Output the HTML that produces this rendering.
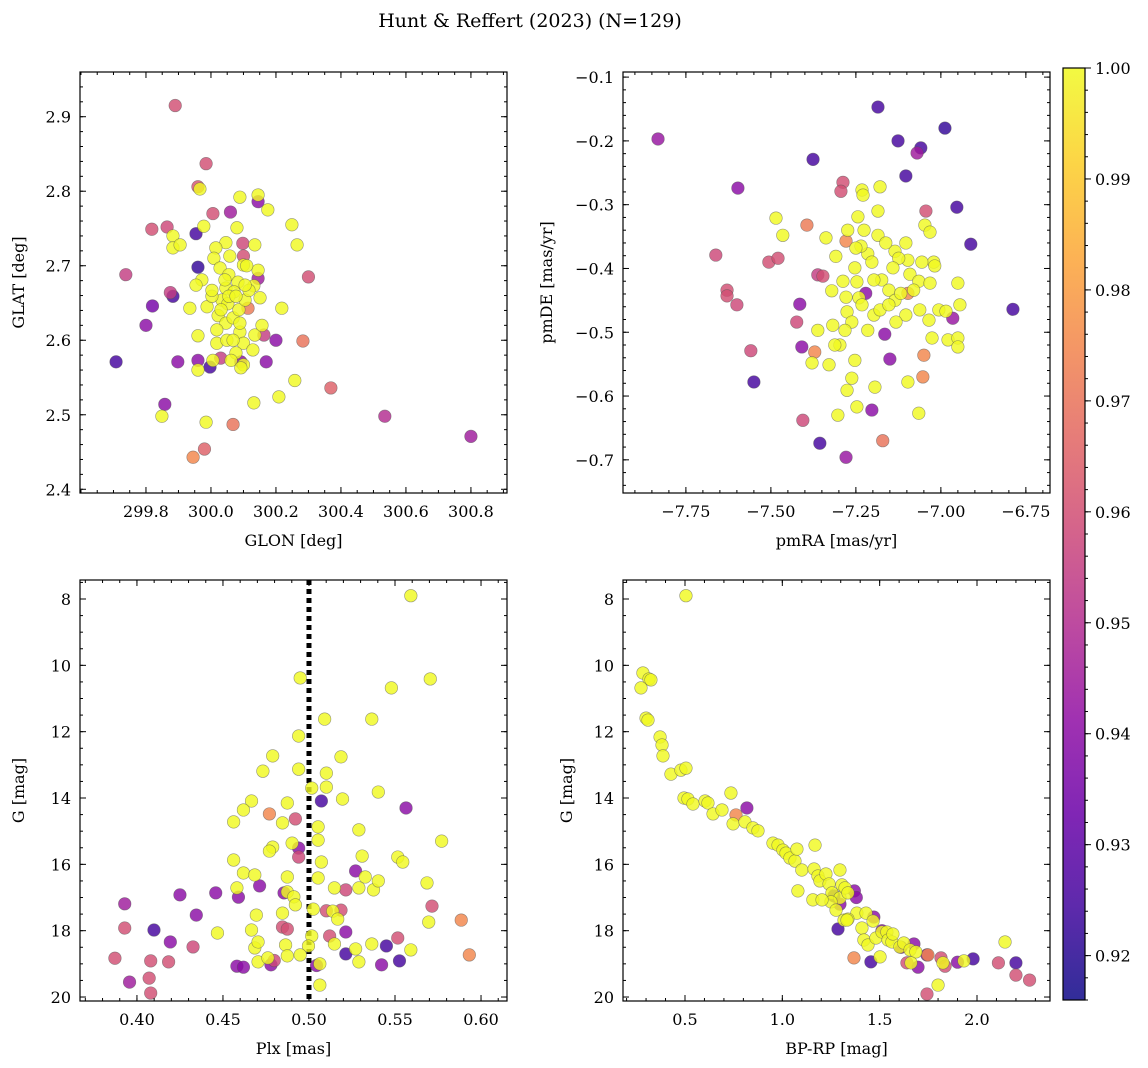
<!DOCTYPE html>
<html><head><meta charset="utf-8"><style>
html,body{margin:0;padding:0;background:#fff;}
svg{display:block;font-family:"DejaVu Serif","Liberation Serif",serif;}
</style></head><body>
<svg id="fig" width="1148" height="1068" viewBox="0 0 1148 1068" xmlns="http://www.w3.org/2000/svg">
<text x="530" y="27" text-anchor="middle" font-size="19">Hunt &amp; Reffert (2023) (N=129)</text>
<defs><linearGradient id="plasma" x1="0" y1="1" x2="0" y2="0"></linearGradient></defs>
</svg>
<script>
// ---------- Panel 1 data: GLON / GLAT ----------
const p1Glon=[299.966,300.089,300.145,300.175,300.08,299.978,299.883,299.883,299.905,300.135,300.249,300.265,300.046,300.015,300.058,300.009,300.10,300.145,300.028,299.972,300.055,300.083,300.132,300.151,299.954,299.935,299.988,300.046,300.034,300.071,300.003,300.022,300.046,300.018,300.068,300.086,300.105,300.117,300.052,300.089,300.10,300.135,300.077,300.062,300.10,300.092,299.96,300.006,299.96,300.018,300.129,300.218,300.258,300.132,300.209,299.985,299.849,300.055,300.077,300.043,300.003,300.105,300.157,300.049,300.089,300.031,300.068,300.11,
299.89,299.985,299.96,300.006,299.865,299.818,299.954,300.06,300.098,300.10,299.738,299.96,300.145,299.883,299.875,299.82,299.80,299.708,299.898,299.96,299.997,300.03,300.092,300.17,300.163,300.2,300.3,300.283,300.369,300.535,300.8,299.858,299.98,299.945,300.068,300.114,300.145];
const p1Glat=[2.803,2.792,2.795,2.775,2.751,2.753,2.74,2.724,2.728,2.728,2.755,2.728,2.731,2.724,2.713,2.71,2.701,2.694,2.697,2.681,2.688,2.678,2.673,2.657,2.674,2.643,2.645,2.67,2.654,2.665,2.659,2.633,2.623,2.614,2.63,2.641,2.654,2.667,2.649,2.611,2.596,2.607,2.583,2.573,2.567,2.563,2.606,2.573,2.56,2.596,2.587,2.643,2.546,2.516,2.524,2.49,2.498,2.659,2.659,2.681,2.667,2.674,2.62,2.60,2.623,2.641,2.60,2.70,
2.915,2.837,2.806,2.77,2.752,2.749,2.743,2.772,2.73,2.713,2.688,2.698,2.786,2.659,2.664,2.646,2.62,2.571,2.571,2.573,2.564,2.576,2.571,2.571,2.607,2.60,2.685,2.599,2.536,2.498,2.471,2.514,2.454,2.443,2.487,2.643,2.683];
const p1Prob=[1,1,1,1,1,1,1,1,1,1,1,1,1,1,1,1,1,1,1,1,1,1,1,1,1,1,1,1,1,1,1,1,1,1,1,1,1,1,1,1,1,1,1,1,1,1,1,1,1,1,1,1,1,1,1,1,1,1,1,1,1,1,1,1,1,1,1,1,
0.96,0.96,0.962,0.96,0.958,0.96,0.925,0.945,0.958,0.96,0.955,0.922,0.94,0.925,0.955,0.935,0.94,0.925,0.94,0.94,0.925,0.955,0.94,0.94,0.955,0.94,0.96,0.97,0.965,0.95,0.945,0.94,0.965,0.975,0.97,0.972,0.945];
// ---------- Panel 2 data: pmRA / pmDE ----------
const p2PmRA=[-7.485,-7.465,-7.338,-7.274,-7.232,-7.229,-7.179,-7.185,-7.244,-7.309,-7.321,-7.288,-7.279,-7.276,-7.253,-7.247,-7.241,-7.215,-7.235,-7.203,-7.174,-7.153,-7.135,-7.118,-7.097,-7.091,-7.135,-7.103,-7.047,-7.032,-7.021,-7.056,-7.065,-7.032,-7.018,-7.006,-7.062,-7.103,-7.132,-7.215,-7.232,-7.197,-7.179,-7.153,-7.262,-7.282,-7.318,-7.362,-7.379,-7.329,-7.297,-7.253,-7.262,-7.276,-7.247,-7.194,-7.097,-7.065,-7.035,-7.026,-6.979,-6.95,-6.95,-6.944,-6.95,-6.985,-7.25,-7.226,-7.185,-7.162,-7.124,-7.141,-7.312,-7.197,-7.08,-7.303,
-7.832,-7.185,-7.126,-6.988,-7.059,-7.07,-7.376,-7.597,-7.288,-7.294,-7.103,-6.953,-7.044,-6.912,-7.662,-7.629,-7.629,-7.6,-7.506,-7.479,-7.362,-7.347,-7.279,-7.394,-7.415,-7.424,-6.788,-6.965,-7.165,-7.15,-7.05,-7.097,-7.221,-7.409,-7.371,-7.559,-7.55,-7.053,-7.406,-7.356,-7.203,-7.171,-7.279];
const p2PmDE=[-0.321,-0.348,-0.352,-0.34,-0.277,-0.285,-0.272,-0.31,-0.319,-0.381,-0.435,-0.42,-0.445,-0.468,-0.399,-0.421,-0.446,-0.377,-0.365,-0.39,-0.418,-0.434,-0.45,-0.439,-0.387,-0.409,-0.373,-0.36,-0.332,-0.343,-0.39,-0.39,-0.42,-0.423,-0.396,-0.465,-0.465,-0.473,-0.484,-0.497,-0.457,-0.473,-0.465,-0.457,-0.484,-0.497,-0.489,-0.497,-0.548,-0.551,-0.52,-0.544,-0.572,-0.591,-0.617,-0.586,-0.578,-0.627,-0.481,-0.509,-0.512,-0.509,-0.523,-0.457,-0.423,-0.467,-0.368,-0.34,-0.348,-0.36,-0.384,-0.399,-0.52,-0.418,-0.434,-0.63,
-0.197,-0.147,-0.2,-0.18,-0.211,-0.219,-0.229,-0.274,-0.265,-0.279,-0.255,-0.304,-0.31,-0.362,-0.379,-0.434,-0.443,-0.457,-0.39,-0.384,-0.41,-0.412,-0.357,-0.332,-0.456,-0.484,-0.464,-0.478,-0.503,-0.542,-0.536,-0.439,-0.439,-0.523,-0.531,-0.529,-0.578,-0.57,-0.638,-0.674,-0.622,-0.67,-0.696];
const p2Prob=[1,1,1,1,1,1,1,1,1,1,1,1,1,1,1,1,1,1,1,1,1,1,1,1,1,1,1,1,1,1,1,1,1,1,1,1,1,1,1,1,1,1,1,1,1,1,1,1,1,1,1,1,1,1,1,1,1,1,1,1,1,1,1,1,1,1,1,1,1,1,1,1,1,1,1,1,
0.943,0.925,0.925,0.922,0.925,0.945,0.925,0.94,0.96,0.96,0.925,0.925,0.96,0.925,0.958,0.96,0.96,0.958,0.96,0.96,0.955,0.96,0.975,0.972,0.94,0.958,0.925,0.943,0.94,0.94,0.975,0.975,0.94,0.94,0.975,0.958,0.925,0.975,0.958,0.925,0.94,0.97,0.943];
// ---------- Panel 3 data: Plx / G ----------
const p3Plx=[0.5592,0.5705,0.4949,0.5479,0.5091,0.5365,0.4940,0.5186,0.4789,0.4732,0.4940,0.5101,0.5016,0.5101,0.4666,0.4874,0.5195,0.5403,0.4619,0.4562,0.4846,0.5053,0.4789,0.5290,0.5771,0.4562,0.4770,0.4902,0.5053,0.5309,0.5516,0.5545,0.5072,0.4619,0.4874,0.4685,0.5053,0.5327,0.5686,0.4581,0.5148,0.5290,0.5375,0.4874,0.5403,0.4912,0.4921,0.5138,0.4694,0.4846,0.5025,0.5696,0.4666,0.5016,0.5167,0.4685,0.4864,0.4997,0.4704,0.4468,0.5365,0.5148,0.5271,0.5592,0.4704,0.4761,0.4874,0.4949,0.5063,0.5290,0.5063,
0.3929,0.3929,0.3872,0.3957,0.4080,0.4099,0.4194,0.4184,0.4071,0.4080,0.4250,0.4345,0.4326,0.4458,0.4590,0.4581,0.4619,0.4713,0.4779,0.4798,0.4855,0.4846,0.4874,0.4770,0.4921,0.4940,0.4940,0.5072,0.5120,0.5214,0.5186,0.5214,0.5271,0.5214,0.5450,0.5422,0.5526,0.5516,0.5564,0.5715,0.5885,0.5932,0.5101,0.5044];
const p3G=[7.9,10.41,10.38,10.68,11.62,11.62,12.13,12.76,12.73,13.19,13.13,13.25,13.7,13.67,14.09,14.15,14.03,13.82,14.36,14.72,14.75,14.87,15.48,14.96,15.3,15.87,15.6,15.36,15.27,15.75,15.78,15.93,15.93,16.26,16.38,16.32,16.41,16.38,16.56,16.71,16.71,16.71,16.77,16.83,16.5,16.98,17.22,17.41,17.53,17.47,17.35,17.74,17.98,18.16,17.65,18.52,18.43,18.46,18.34,18.07,18.4,18.4,18.55,18.58,18.94,18.82,18.76,18.73,19.0,18.94,19.64,
17.19,17.92,18.83,19.55,18.91,17.98,18.34,18.94,19.43,19.88,16.92,17.53,18.49,16.86,16.99,19.07,19.1,16.65,19.03,18.9,16.86,17.89,17.95,14.48,14.63,15.51,15.78,14.09,18.16,18.04,17.38,16.77,16.2,18.7,18.46,19.03,18.91,18.22,14.3,17.26,17.68,18.73,17.4,19.05];
const p3Prob=[1,1,1,1,1,1,1,1,1,1,1,1,1,1,1,1,1,1,1,1,1,1,1,1,1,1,1,1,1,1,1,1,1,1,1,1,1,1,1,1,1,1,1,1,1,1,1,1,1,1,1,1,1,1,1,1,1,1,1,1,1,1,1,1,1,1,1,1,1,1,1,
0.945,0.96,0.96,0.945,0.96,0.925,0.94,0.96,0.96,0.96,0.94,0.94,0.958,0.94,0.94,0.94,0.94,0.94,0.94,0.958,0.94,0.96,0.96,0.975,0.96,0.94,0.958,0.925,0.96,0.94,0.96,0.958,0.94,0.925,0.925,0.94,0.925,0.96,0.94,0.96,0.975,0.975,0.96,0.94];
// ---------- Panel 4 data: BP-RP / G ----------
const p4Color=[0.505,0.284,0.315,0.325,0.274,0.3,0.31,0.372,0.382,0.387,0.428,0.479,0.505,0.495,0.515,0.541,0.603,0.618,0.644,0.69,0.736,0.747,0.808,0.849,0.875,0.952,0.978,1.003,1.019,1.039,1.065,1.075,1.168,1.1,1.08,1.163,1.183,1.193,1.224,1.24,1.255,1.296,1.306,1.322,1.337,1.25,1.276,1.317,1.383,1.43,1.466,1.409,1.419,1.44,1.481,1.512,1.537,1.543,1.563,1.568,1.604,1.624,1.656,1.686,1.661,1.502,1.825,1.8,1.933,2.144,1.337,1.157,1.204,1.296,1.332,
0.818,0.762,1.265,1.296,1.286,1.37,1.47,1.455,1.368,1.38,1.512,1.61,1.676,1.697,1.64,1.743,1.815,1.836,1.9,1.98,2.11,2.2,2.27,2.2,1.743,1.748];
const p4G=[7.9,10.23,10.41,10.44,10.68,11.59,11.65,12.16,12.4,12.73,13.28,13.16,13.1,14.0,14.03,14.18,14.09,14.15,14.48,14.36,13.85,14.78,14.72,14.9,14.99,15.36,15.42,15.57,15.66,15.81,15.9,15.54,15.42,16.17,16.8,16.14,16.35,16.5,16.29,16.59,16.86,17.01,16.62,16.71,16.86,17.13,17.38,17.68,17.47,17.47,17.71,17.92,18.28,18.43,18.22,18.04,18.04,18.28,18.34,18.1,18.49,18.37,18.58,18.64,18.97,18.79,18.97,19.64,18.91,18.34,17.65,17.07,17.07,16.17,17.68,
14.3,14.51,16.95,17.2,17.95,16.8,17.59,18.94,18.82,17.0,18.0,18.5,18.4,19.1,18.97,18.73,18.82,19.07,18.95,18.85,18.97,19.34,19.49,18.97,19.91,18.73];
const p4Prob=[1,1,1,1,1,1,1,1,1,1,1,1,1,1,1,1,1,1,1,1,1,1,1,1,1,1,1,1,1,1,1,1,1,1,1,1,1,1,1,1,1,1,1,1,1,1,1,1,1,1,1,1,1,1,1,1,1,1,1,1,1,1,1,1,1,1,1,1,1,1,1,1,1,1,1,
0.94,0.975,0.925,0.94,0.925,0.94,0.94,0.925,0.975,0.94,0.94,0.94,0.94,0.94,0.96,0.94,0.96,0.96,0.94,0.925,0.96,0.96,0.96,0.925,0.96,0.975];
// ---------- tick labels ----------
const p1XTicks=[299.8,300.0,300.2,300.4,300.6,300.8];
const p1YTicks=[2.4,2.5,2.6,2.7,2.8,2.9];
const p2XTicks=[-7.75,-7.5,-7.25,-7.0,-6.75];
const p2YTicks=[-0.7,-0.6,-0.5,-0.4,-0.3,-0.2,-0.1];
const p3XTicks=[0.40,0.45,0.50,0.55,0.60];
const gTicks=[8,10,12,14,16,18,20];
const p4XTicks=[0.5,1.0,1.5,2.0];
const cbTicks=[0.92,0.93,0.94,0.95,0.96,0.97,0.98,0.99,1.00];
const plxLine=[0.50];

const NS="http://www.w3.org/2000/svg";
const svg=document.getElementById('fig');
const VMIN=0.916,VMAX=1.0;
const stops=["#0d0887","#41049d","#6a00a8","#8f0da4","#b12a90","#cc4778","#e16462","#f2844b","#fca636","#fcce25","#f0f921"];
function hex(h){return [parseInt(h.substr(1,2),16),parseInt(h.substr(3,2),16),parseInt(h.substr(5,2),16)];}
function plasma(t){t=Math.max(0,Math.min(1,t));const f=t*10,i=Math.min(9,Math.floor(f)),r=f-i;const a=hex(stops[i]),b=hex(stops[i+1]);return `rgb(${a.map((v,k)=>Math.round(v+(b[k]-v)*r)).join(',')})`;}
function el(tag,attrs,parent){const e=document.createElementNS(NS,tag);for(const k in attrs)e.setAttribute(k,attrs[k]);(parent||svg).appendChild(e);return e;}
function fmt(v,d){return v.toFixed(d).replace('-','\u2212');}

function panel(o){
  const g=el('g',{});
  
  
  const sx=v=>o.x0+(v-o.xd[0])/(o.xd[1]-o.xd[0])*(o.x1-o.x0);
  const sy=o.yInv?(v=>o.y0+(v-o.yd[0])/(o.yd[1]-o.yd[0])*(o.y1-o.y0)):(v=>o.y1-(v-o.yd[0])/(o.yd[1]-o.yd[0])*(o.y1-o.y0));
  if(o.vline){o.vline.forEach(v=>{const l=el('line',{x1:sx(v),x2:sx(v),y1:o.y0,y2:o.y1,stroke:'#000','stroke-width':5,'stroke-dasharray':'5,4'},g);});}
  const idx=o.xs.map((_,i)=>i).sort((a,b)=>o.cs[a]-o.cs[b]);
  idx.forEach(i=>{
    const c=el('circle',{cx:sx(o.xs[i]),cy:sy(o.ys[i]),r:6.3,fill:plasma((o.cs[i]-VMIN)/(VMAX-VMIN)),'fill-opacity':0.82,stroke:'#555','stroke-opacity':0.6,'stroke-width':0.6},g);
    
    
  });
  el('rect',{x:o.x0,y:o.y0,width:o.x1-o.x0,height:o.y1-o.y0,fill:'none',stroke:'#000','stroke-width':1.2},g);
  for(let v=Math.ceil(o.xd[0]/o.xm-1e-6)*o.xm;v<=o.xd[1];v+=o.xm){const X=sx(v);el('line',{x1:X,x2:X,y1:o.y1,y2:o.y1-3,stroke:'#000'},g);el('line',{x1:X,x2:X,y1:o.y0,y2:o.y0+3,stroke:'#000'},g);}
  for(let v=Math.ceil(o.yd[0]/o.ym-1e-6)*o.ym;v<=o.yd[1];v+=o.ym){const Y=sy(v);el('line',{x1:o.x0,x2:o.x0+3,y1:Y,y2:Y,stroke:'#000'},g);el('line',{x1:o.x1,x2:o.x1-3,y1:Y,y2:Y,stroke:'#000'},g);}
  o.xt.forEach(v=>{const X=sx(v);el('line',{x1:X,x2:X,y1:o.y1,y2:o.y1-6,stroke:'#000'},g);el('line',{x1:X,x2:X,y1:o.y0,y2:o.y0+6,stroke:'#000'},g);
    const t=el('text',{x:X,y:o.y1+24,'text-anchor':'middle','font-size':16},g);t.textContent=fmt(v,o.xdp);});
  o.yt.forEach(v=>{const Y=sy(v);el('line',{x1:o.x0,x2:o.x0+6,y1:Y,y2:Y,stroke:'#000'},g);el('line',{x1:o.x1,x2:o.x1-6,y1:Y,y2:Y,stroke:'#000'},g);
    const t=el('text',{x:o.x0-9,y:Y+6,'text-anchor':'end','font-size':16},g);t.textContent=fmt(v,o.ydp);});
  const xl=el('text',{x:(o.x0+o.x1)/2,y:o.y1+53,'text-anchor':'middle','font-size':16},g);xl.textContent=o.xlab;
  
  const yx=o.ylx,yy=(o.y0+o.y1)/2;
  const yl=el('text',{x:yx,y:yy,'text-anchor':'middle','font-size':16,transform:`rotate(-90 ${yx} ${yy})`},g);yl.textContent=o.ylab;
  
}
panel({name:'glon-glat-panel',x0:80,x1:507,y0:72,y1:493,xd:[299.597,300.911],yd:[2.395,2.960],xs:p1Glon,ys:p1Glat,cs:p1Prob,xt:p1XTicks,yt:p1YTicks,xm:0.05,ym:0.02,xdp:1,ydp:1,xlab:'GLON [deg]',ylab:'GLAT [deg]',ylx:24});
panel({name:'proper-motion-panel',x0:623,x1:1050,y0:72,y1:493,xd:[-7.935,-6.679],yd:[-0.752,-0.092],xs:p2PmRA,ys:p2PmDE,cs:p2Prob,xt:p2XTicks,yt:p2YTicks,xm:0.05,ym:0.02,xdp:2,ydp:1,xlab:'pmRA [mas/yr]',ylab:'pmDE [mas/yr]',ylx:552});
panel({name:'plx-g-panel',x0:80,x1:507,y0:580,y1:1001,xd:[0.3669,0.6151],yd:[7.427,20.12],yInv:true,xs:p3Plx,ys:p3G,cs:p3Prob,xt:p3XTicks,yt:gTicks,xm:0.01,ym:0.5,xdp:2,ydp:0,xlab:'Plx [mas]',ylab:'G [mag]',ylx:24,vline:plxLine});
panel({name:'cmd-panel',x0:623,x1:1050,y0:580,y1:1001,xd:[0.1816,2.375],yd:[7.427,20.12],yInv:true,xs:p4Color,ys:p4G,cs:p4Prob,xt:p4XTicks,yt:gTicks,xm:0.1,ym:0.5,xdp:1,ydp:0,xlab:'BP-RP [mag]',ylab:'G [mag]',ylx:572});

// colorbar
const grad=document.getElementById('plasma');
stops.forEach((s,i)=>el('stop',{offset:(i/10),'stop-color':s,'stop-opacity':0.85},grad));
const cb=el('g',{});


const cy0=68,cy1=1000,cx0=1063,cx1=1085;
el('rect',{x:cx0,y:cy0,width:cx1-cx0,height:cy1-cy0,fill:'url(#plasma)',stroke:'#000','stroke-width':1.2},cb);
const cby=v=>cy1-(v-VMIN)/(VMAX-VMIN)*(cy1-cy0);
for(let v=0.916;v<=1.0001;v+=0.002){const Y=cby(v);el('line',{x1:cx1,x2:cx1+3,y1:Y,y2:Y,stroke:'#000'},cb);}
cbTicks.forEach(v=>{const Y=cby(v);el('line',{x1:cx1,x2:cx1+6,y1:Y,y2:Y,stroke:'#000'},cb);
  const t=el('text',{x:1095,y:Y+6,'font-size':16},cb);t.textContent=v.toFixed(2);
  });
</script>
</body></html>
